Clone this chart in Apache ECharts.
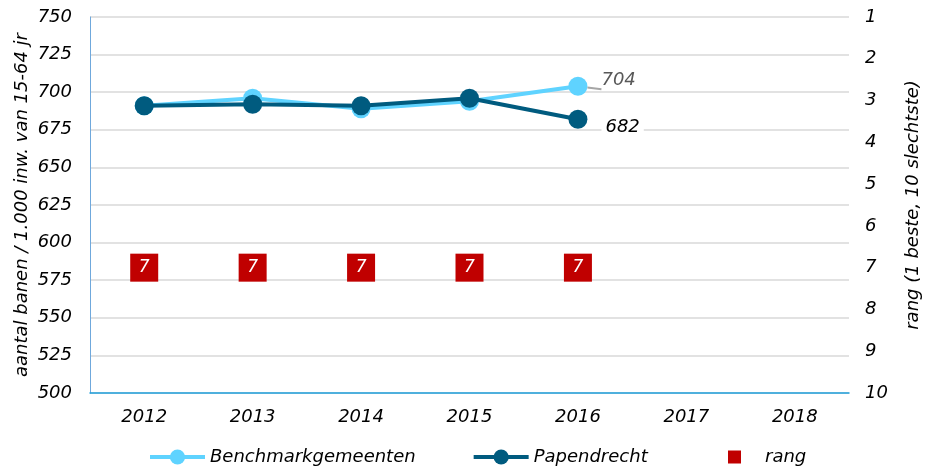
<!DOCTYPE html>
<html>
<head>
<meta charset="utf-8">
<script src="https://cdn.jsdelivr.net/npm/echarts@6/dist/echarts.min.js"></script>
<style>
  html, body { margin: 0; padding: 0; background: #fff; }
  #chart { width: 935px; height: 471px; }
</style>
</head>
<body>
<div id="chart"></div>
<script>
// jaren op de x-as
const years = ['2012', '2013', '2014', '2015', '2016', '2017', '2018'];
// aantal banen per 1.000 inw. van 15-64 jr
const benchmark = [691, 696, 689, 694, 704, null, null];
const papendrecht = [691, 692, 691, 696, 682, null, null];
// rang (1 beste, 10 slechtste)
const rang = [7, 7, 7, 7, 7, null, null];

const font = 'DejaVu Sans, Verdana, sans-serif';

// eindwaarde van een reeks als label tonen
function withEndLabel(values, labelOpts, lineOpts) {
  let last = -1;
  values.forEach((v, i) => { if (v !== null) last = i; });
  return values.map((v, i) => {
    if (i !== last) return v;
    return { value: v, label: labelOpts, labelLine: lineOpts };
  });
}

const chart = echarts.init(document.getElementById('chart'));

const option = {
  animation: false,
  textStyle: { fontFamily: font, fontStyle: 'italic' },
  grid: { left: 90, right: 86, top: 17, bottom: 78, outerBoundsMode: 'none' },
  legend: [
    {
      data: ['Benchmarkgemeenten', 'Papendrecht'],
      left: 143,
      top: 443,
      itemWidth: 55,
      itemHeight: 19,
      itemGap: 56,
      lineStyle: { width: 4 },
      textStyle: { fontFamily: font, fontStyle: 'italic', fontSize: 18, color: '#000' }
    },
    {
      data: ['rang'],
      left: 723,
      top: 443,
      itemWidth: 13,
      itemHeight: 13,
      textStyle: { fontFamily: font, fontStyle: 'italic', fontSize: 18, color: '#000', padding: [0, 0, 0, 19] }
    }
  ],
  xAxis: {
    type: 'category',
    data: years,
    axisTick: { show: false },
    axisLine: { lineStyle: { color: '#1fa0dc', width: 1.5 } },
    axisLabel: { fontFamily: font, fontStyle: 'italic', fontSize: 18, color: '#000', margin: 15 }
  },
  yAxis: [
    {
      type: 'value',
      min: 500,
      max: 750,
      interval: 25,
      name: 'aantal banen / 1.000 inw. van 15-64 jr',
      nameLocation: 'middle',
      nameGap: 59,
      nameMoveOverlap: false,
      nameTextStyle: { fontFamily: font, fontStyle: 'italic', fontSize: 18, color: '#000' },
      axisLine: { show: true, lineStyle: { color: '#6fa8dc', width: 1 } },
      axisTick: { show: false },
      axisLabel: { fontFamily: font, fontStyle: 'italic', fontSize: 18, color: '#000', margin: 18 },
      splitLine: { lineStyle: { color: '#d9d9d9', width: 1.5 } }
    },
    {
      type: 'value',
      min: 1,
      max: 10,
      interval: 1,
      inverse: true,
      position: 'right',
      name: 'rang (1 beste, 10 slechtste)',
      nameLocation: 'middle',
      nameGap: 55,
      nameRotate: 90,
      nameTextStyle: { fontFamily: font, fontStyle: 'italic', fontSize: 18, color: '#000' },
      axisLine: { show: false },
      axisTick: { show: false },
      axisLabel: { fontFamily: font, fontStyle: 'italic', fontSize: 18, color: '#000', margin: 16 },
      splitLine: { show: false }
    }
  ],
  series: [
    {
      name: 'Benchmarkgemeenten',
      type: 'line',
      data: withEndLabel(benchmark,
        { show: true, position: 'right', distance: 14, offset: [0, -6], formatter: '{c}',
          fontFamily: font, fontStyle: 'italic', fontSize: 18, color: '#595959' },
        { show: true, lineStyle: { color: '#a6a6a6', width: 2 } }),
      symbol: 'circle',
      symbolSize: 19,
      itemStyle: { color: '#5fd3ff' },
      lineStyle: { color: '#5fd3ff', width: 4 },
      z: 2
    },
    {
      name: 'Papendrecht',
      type: 'line',
      data: withEndLabel(papendrecht,
        { show: true, position: 'right', distance: 14, offset: [0, 8], formatter: '{c}',
          fontFamily: font, fontStyle: 'italic', fontSize: 18, color: '#000',
          backgroundColor: '#fff', padding: [2, 4] },
        { show: false }),
      symbol: 'circle',
      symbolSize: 19,
      itemStyle: { color: '#005b7f' },
      lineStyle: { color: '#005b7f', width: 4 },
      z: 3
    },
    {
      name: 'rang',
      type: 'scatter',
      yAxisIndex: 1,
      data: rang,
      symbol: 'rect',
      symbolSize: 28,
      itemStyle: { color: '#c00000', opacity: 1 },
      label: {
        show: true,
        position: 'inside',
        formatter: '{c}',
        fontFamily: font,
        fontStyle: 'italic',
        fontSize: 17,
        color: '#fff'
      },
      z: 4
    }
  ]
};

chart.setOption(option);
</script>
</body>
</html>
